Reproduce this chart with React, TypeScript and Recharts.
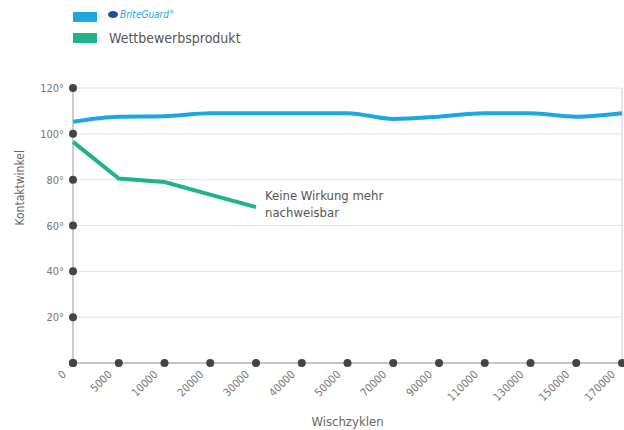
import React from "react";
import { LineChart, Line, XAxis, YAxis, CartesianGrid, ReferenceLine } from "recharts";

const zyklen = ["0", "5000", "10000", "20000", "30000", "40000", "50000", "70000", "90000", "110000", "130000", "150000", "170000"];
const briteGuard = [105.3, 107.5, 107.7, 109, 109, 109, 109, 106.5, 107.5, 109, 109, 107.5, 109];
const wettbewerb = [96.5, 80.5, 79, 73.5, 68];
const yTicks = [0, 20, 40, 60, 80, 100, 120];

const data = zyklen.map((z, i) => ({
  z,
  brite: briteGuard[i],
  wett: i < wettbewerb.length ? wettbewerb[i] : null,
}));

const FONT = "'DejaVu Sans', sans-serif";
const STRETCH = "condensed";
const BLUE = "#1ca6e2";
const GREEN = "#1fb38b";

const XTick = (props: any) => {
  const { x, y, payload } = props;
  return (
    <g>
      <circle cx={x} cy={y} r={4} fill="#444" />
      <text
        x={x - 6}
        y={y + 12}
        textAnchor="end"
        fontSize={11}
        fill="#777"
        fontFamily={FONT}
        style={{ fontStretch: STRETCH }}
        transform={`rotate(-45 ${x - 6} ${y + 12})`}
      >
        {payload.value}
      </text>
    </g>
  );
};

const YTick = (props: any) => {
  const { x, y, payload } = props;
  return (
    <g>
      <circle cx={x} cy={y} r={4} fill="#444" />
      {payload.value !== 0 && (
        <text x={x - 9} y={y + 4} textAnchor="end" fontSize={11} fill="#777" fontFamily={FONT} style={{ fontStretch: STRETCH }}>
          {payload.value}°
        </text>
      )}
    </g>
  );
};

export default function App() {
  return (
    <div style={{ position: "absolute", left: 0, top: 0, width: 624, height: 430, background: "#fff", fontFamily: FONT, fontStretch: STRETCH }}>
      <LineChart width={624} height={430} data={data} margin={{ top: 88, right: 2, bottom: 0, left: 0 }}>
        <CartesianGrid horizontal vertical={false} stroke="#e2e2e2" />
        <XAxis
          dataKey="z"
          stroke="#999"
          tickLine={false}
          tickSize={0}
          tickMargin={0}
          height={67}
          interval={0}
          tick={<XTick />}
          label={{ value: "Wischzyklen", position: "insideBottom", offset: 4, fill: "#666", fontSize: 13, fontFamily: FONT, style: { fontStretch: STRETCH } }}
        />
        <YAxis
          domain={[0, 120]}
          ticks={yTicks}
          stroke="#999"
          tickLine={false}
          tickSize={0}
          tickMargin={0}
          width={73}
          tick={<YTick />}
          label={{ value: "Kontaktwinkel", angle: -90, position: "insideLeft", offset: 20, fill: "#666", fontSize: 12, fontFamily: FONT, style: { fontStretch: STRETCH } }}
        />
        <ReferenceLine x="170000" stroke="#ccc" />
        <Line dataKey="brite" stroke={BLUE} strokeWidth={4} dot={false} type="monotone" isAnimationActive={false} />
        <Line dataKey="wett" stroke={GREEN} strokeWidth={4} dot={false} type="linear" isAnimationActive={false} connectNulls={false} />
      </LineChart>
      <div style={{ position: "absolute", left: 73, top: 12, width: 24, height: 10, background: BLUE }} />
      <div style={{ position: "absolute", left: 108, top: 8, fontSize: 10, fontStyle: "italic", color: BLUE, whiteSpace: "nowrap" }}>
        <span style={{ display: "inline-block", width: 10, height: 7, borderRadius: "50%", background: "#1a4f9e", marginRight: 2 }} />
        BriteGuard<sup style={{ fontSize: 6 }}>®</sup>
      </div>
      <div style={{ position: "absolute", left: 73, top: 33, width: 24, height: 10, background: GREEN }} />
      <div style={{ position: "absolute", left: 109, top: 30, fontSize: 14, color: "#555", whiteSpace: "nowrap" }}>
        Wettbewerbsprodukt
      </div>
      <div style={{ position: "absolute", left: 265, top: 187, fontSize: 13, color: "#555", lineHeight: "17px", whiteSpace: "nowrap" }}>
        Keine Wirkung mehr
        <br />
        nachweisbar
      </div>
    </div>
  );
}
